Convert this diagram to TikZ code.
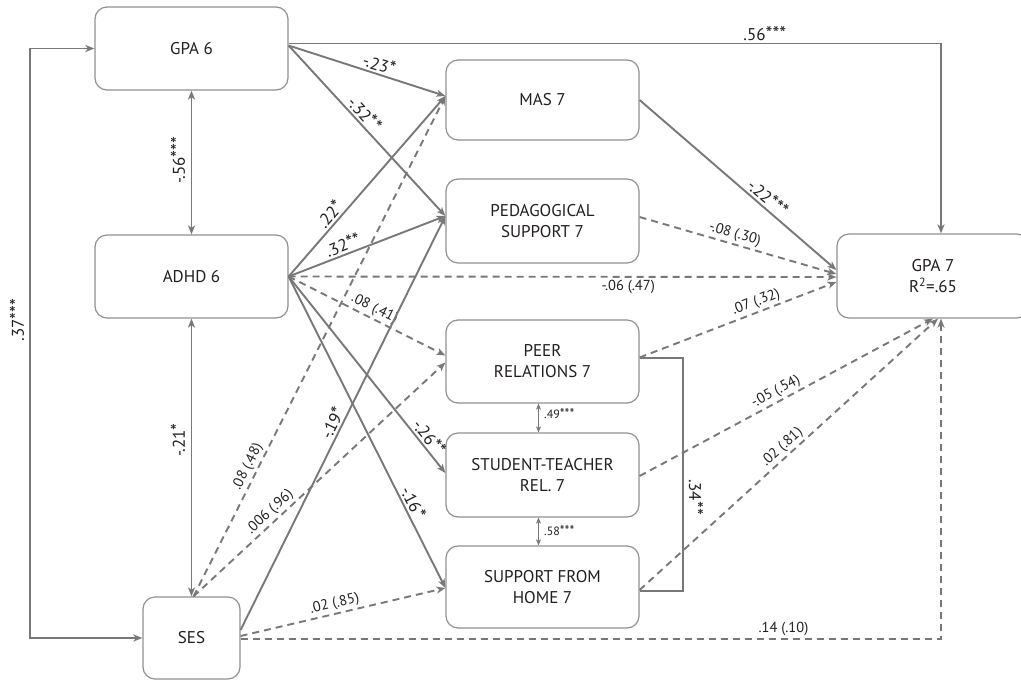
\documentclass[tikz,border=0pt]{standalone}
\usepackage{fontspec}
\setmainfont{PT Sans}
\usetikzlibrary{arrows.meta,calc}
\definecolor{linegray}{RGB}{120,120,120}
\definecolor{boxgray}{RGB}{145,145,145}
\definecolor{ink}{RGB}{35,31,32}
% significance stars, set a little larger than the digits
\newcommand\sg[1]{\scalebox{1.15}{#1}}

\begin{document}
\begin{tikzpicture}[x=1pt,y=-1pt,
  box/.style={draw=boxgray, line width=1.2pt, rounded corners=12pt, fill=white,
    text=ink, align=center, font=\fontsize{17}{21}\selectfont, inner sep=0pt},
  tip/.style={-{Stealth[length=9pt,width=7pt,inset=2.5pt]}},
  solidarrow/.style={draw=linegray, line width=1.9pt, tip},
  dasharrow/.style={draw=linegray, line width=1.9pt, dash pattern=on 7pt off 5pt, tip},
  twoway/.style={draw=linegray, line width=1.9pt, {Stealth[length=9pt,width=7pt,inset=2.5pt]}-{Stealth[length=9pt,width=7pt,inset=2.5pt]}},
  smalltwoway/.style={draw=linegray, line width=1.4pt, {Stealth[length=6pt,width=5pt,inset=1.5pt]}-{Stealth[length=6pt,width=5pt,inset=1.5pt]}},
  lab/.style={font=\fontsize{17}{19}\selectfont, text=ink, inner sep=2pt},
  slab/.style={font=\fontsize{14.5}{16}\selectfont, text=ink, inner sep=2pt},
  tlab/.style={font=\fontsize{12}{14}\selectfont, text=ink, anchor=west, inner sep=0pt}
]
\useasboundingbox (0,0) rectangle (1021,681);

% variables
\node[box, minimum width=193, minimum height=83] (gpa6) at (191.5,48.5) {GPA 6};
\node[box, minimum width=193, minimum height=83] (adhd) at (191.5,276.5) {ADHD 6};
\node[box, minimum width=97, minimum height=82] (ses) at (191.5,638) {SES};
\node[box, minimum width=193, minimum height=80] (mas) at (542.5,100) {MAS 7};
\node[box, minimum width=193, minimum height=84] (ped) at (542.5,221) {PEDAGOGICAL\\SUPPORT 7};
\node[box, minimum width=193, minimum height=83] (peer) at (542.5,361.5) {PEER\\RELATIONS 7};
\node[box, minimum width=193, minimum height=84] (st) at (542.5,475) {STUDENT-TEACHER\\REL. 7};
\node[box, minimum width=193, minimum height=82] (sfh) at (542.5,587) {SUPPORT FROM\\HOME 7};
\node[box, minimum width=192, minimum height=84] (gpa7) at (933,276) {GPA 7\\R\textsuperscript{2}=.65};

% entry and exit points
\coordinate (masin) at ([yshift=4pt]mas.west);
\coordinate (pedin) at ([yshift=5pt]ped.west);
\coordinate (peerinA) at ([yshift=6pt]peer.west);
\coordinate (peerinB) at ([yshift=-1pt]peer.west);
\coordinate (stin) at ([yshift=2pt]st.west);
\coordinate (sfhin) at ([yshift=-1pt]sfh.west);
\coordinate (gpa7top) at ([xshift=8pt]gpa7.north);
\coordinate (gpa7botA) at ([xshift=0pt]gpa7.south);
\coordinate (gpa7botB) at ([xshift=5pt]gpa7.south);
\coordinate (gpa7botC) at ([xshift=8pt]gpa7.south);
\coordinate (sestop) at ([xshift=2pt]ses.north);

% left loop between GPA 6 and SES
\coordinate (loopT) at (30,48.5);
\coordinate (loopB) at (30,638);
\draw[twoway] (gpa6.west) -- (loopT) -- (loopB) -- (ses.west);
\node[lab, rotate=90] (l37) at (17,320) {.37\sg{***}};

% correlations among grade 6 variables
\draw[twoway] (gpa6.south) -- (adhd.north);
\node[lab, rotate=90] (l56) at (178,160) {-.56\sg{***}};
\draw[twoway] (adhd.south) -- (ses.north);
\node[lab, rotate=90] (l21) at (178,440) {-.21\sg{*}};

% GPA 6 paths
\draw[solidarrow] ([yshift=5pt]gpa6.east) -- node[lab, above, pos=0.73]{.56\sg{***}} ([yshift=5pt]gpa6.east -| gpa7top) -- (gpa7top);
\draw[solidarrow] ([yshift=3pt]gpa6.east) -- node[lab, sloped, above, pos=0.56]{-.23\sg{*}} (masin);
\draw[solidarrow] ([yshift=3pt]gpa6.east) -- node[lab, sloped, above, pos=0.44]{-.32\sg{**}} (pedin);

% ADHD 6 paths
\draw[solidarrow] (adhd.east) -- node[lab, sloped, above, pos=0.31]{.22\sg{*}} (masin);
\draw[solidarrow] (adhd.east) -- node[lab, sloped, above, pos=0.37]{.32\sg{**}} (pedin);
\draw[dasharrow] (adhd.east) -- node[slab, sloped, below, pos=0.62]{-.06 (.47)} ([yshift=-1pt]gpa7.west);
\draw[dasharrow] (adhd.east) -- node[slab, sloped, above, pos=0.52]{.08 (.41)} (peerinA);
\draw[solidarrow] (adhd.east) -- node[lab, sloped, above, pos=0.85]{-.26\sg{**}} (stin);
\draw[solidarrow] (adhd.east) -- node[lab, sloped, above, pos=0.74]{-.16\sg{*}} (sfhin);

% SES paths
\draw[dasharrow] (sestop) -- node[slab, sloped, above, pos=0.25]{.08 (.48)} (masin);
\draw[dasharrow] (sestop) -- node[slab, sloped, above, pos=0.33]{.006 (.96)} (peerinB);
\draw[solidarrow] ([yshift=8pt]ses.east) -- node[lab, sloped, above, pos=0.49]{-.19\sg{*}} (pedin);
\draw[dasharrow] ([yshift=2pt]ses.east) -- node[slab, sloped, above, pos=0.47]{.02 (.85)} (sfhin);
\draw[dasharrow] ([yshift=-1pt]ses.east) -- node[slab, above, pos=0.775]{.14 (.10)} ([yshift=-1pt]ses.east -| gpa7botC) -- (gpa7botC);

% grade 7 mediators to GPA 7
\draw[solidarrow] (mas.east) -- node[lab, sloped, above, pos=0.62]{-.22\sg{***}} ([yshift=6pt]gpa7.west);
\draw[dasharrow] ([yshift=4pt]ped.east) -- node[slab, sloped, above, pos=0.47]{-.08 (.30)} ([yshift=2pt]gpa7.west);
\draw[dasharrow] ([yshift=4pt]peer.east) -- node[slab, sloped, above, pos=0.61]{.07 (.32)} ([yshift=-6pt]gpa7.west);
\draw[dasharrow] ([yshift=-1pt]st.east) -- node[slab, sloped, above, pos=0.48]{-.05 (.54)} (gpa7botA);
\draw[dasharrow] ([yshift=-3pt]sfh.east) -- node[slab, sloped, above, pos=0.5]{.02 (.81)} (gpa7botB);

% correlations among grade 7 mediators
\draw[smalltwoway] ([xshift=-4pt]peer.south) -- ([xshift=-4pt]st.north);
\node[tlab] (r49) at (544,414) {.49\sg{***}};
\draw[smalltwoway] ([xshift=-4pt]st.south) -- ([xshift=-4pt]sfh.north);
\node[tlab] (r58) at (544,531) {.58\sg{***}};

% peer relations -- support from home
\coordinate (brT) at (683,358);
\coordinate (brB) at (683,591);
\draw[draw=linegray, line width=1.9pt] ([yshift=3.5pt]peer.east) -- (brT) -- (brB) -- ([yshift=-4pt]sfh.east);
\node[lab, rotate=-90] (l34) at (696,497) {.34\sg{**}};
\end{tikzpicture}
\end{document}
